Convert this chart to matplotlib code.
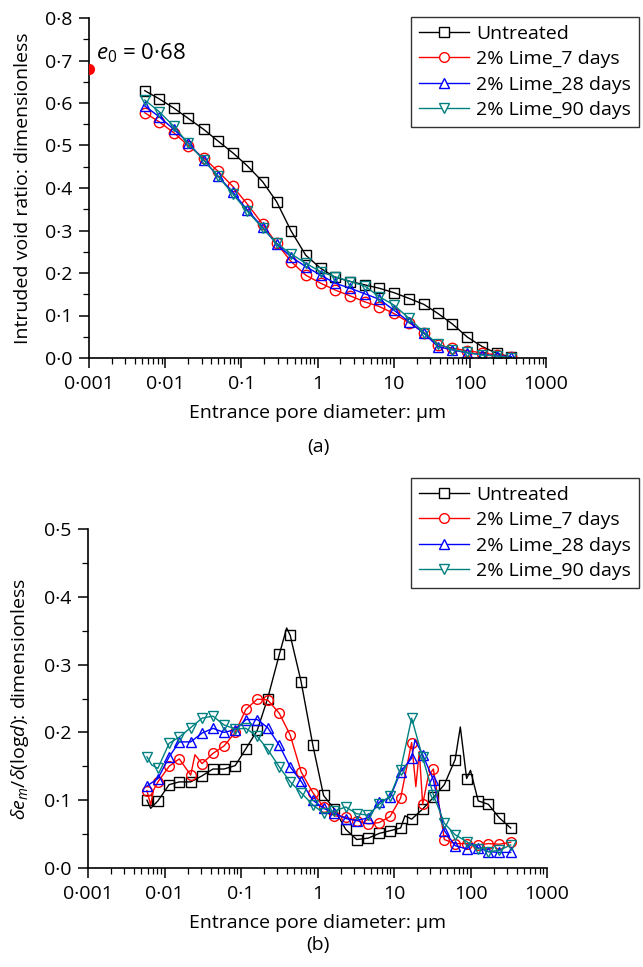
import matplotlib
matplotlib.use('Agg')
import matplotlib.pyplot as plt
from matplotlib.lines import Line2D
from matplotlib.ticker import FixedLocator, LogLocator, NullFormatter, FuncFormatter, MultipleLocator

plt.rcParams['font.family'] = ['Open Sans', 'DejaVu Sans']
plt.rcParams['mathtext.fontset'] = 'custom'
plt.rcParams['mathtext.rm'] = 'Open Sans'
plt.rcParams['mathtext.it'] = 'Open Sans:italic'

labels = ['Untreated', '2% Lime_7 days', '2% Lime_28 days', '2% Lime_90 days']
colors = ['black', 'red', 'blue', 'teal']
markers = ['s', 'o', '^', 'v']

# panel (a): intruded void ratio
d_a = [0.0054, 0.0083, 0.013, 0.020, 0.032, 0.049, 0.077, 0.12, 0.19, 0.29, 0.45, 0.70, 1.1,
       1.7, 2.7, 4.2, 6.5, 10, 16, 25, 38, 59, 93, 145, 225, 350]
e_untreated = [0.629, 0.610, 0.588, 0.564, 0.538, 0.511, 0.483, 0.452, 0.415, 0.368, 0.299, 0.242, 0.211,
               0.190, 0.180, 0.172, 0.164, 0.154, 0.140, 0.126, 0.105, 0.080, 0.049, 0.027, 0.011, 0.002]
e_lime7 = [0.577, 0.556, 0.530, 0.500, 0.471, 0.440, 0.404, 0.362, 0.315, 0.270, 0.227, 0.195, 0.176,
           0.160, 0.146, 0.132, 0.121, 0.105, 0.083, 0.060, 0.031, 0.023, 0.017, 0.012, 0.007, 0.002]
e_lime28 = [0.593, 0.568, 0.538, 0.507, 0.466, 0.428, 0.391, 0.348, 0.308, 0.268, 0.238, 0.215, 0.195,
            0.176, 0.164, 0.151, 0.138, 0.113, 0.085, 0.058, 0.027, 0.019, 0.012, 0.008, 0.005, 0.003]
e_lime90 = [0.607, 0.580, 0.545, 0.505, 0.466, 0.429, 0.386, 0.345, 0.306, 0.270, 0.245, 0.223, 0.203,
            0.191, 0.180, 0.169, 0.144, 0.125, 0.093, 0.060, 0.033, 0.020, 0.013, 0.007, 0.005, 0.001]
e0 = 0.68

# panel (b): pore size density, markers at d_b
d_b = [0.0059, 0.0082, 0.0115, 0.0156, 0.022, 0.031, 0.043, 0.060, 0.084, 0.116, 0.163, 0.223, 0.317,
       0.44, 0.61, 0.87, 1.2, 1.66, 2.34, 3.25, 4.6, 6.4, 8.9, 12.2, 17, 23.7, 32.7, 45.5, 63, 89,
       126, 171, 238, 335]
f_untreated = [0.100, 0.099, 0.123, 0.127, 0.127, 0.136, 0.146, 0.146, 0.151, 0.176, 0.203, 0.250, 0.315,
               0.343, 0.275, 0.181, 0.107, 0.087, 0.057, 0.042, 0.044, 0.051, 0.055, 0.059, 0.072, 0.087,
               0.104, 0.123, 0.160, 0.132, 0.099, 0.094, 0.074, 0.059]
f_lime7 = [0.114, 0.127, 0.150, 0.161, 0.137, 0.154, 0.169, 0.180, 0.200, 0.234, 0.249, 0.248, 0.228,
           0.196, 0.142, 0.111, 0.090, 0.077, 0.075, 0.070, 0.065, 0.067, 0.076, 0.103, 0.185, 0.094,
           0.146, 0.042, 0.036, 0.036, 0.034, 0.036, 0.035, 0.038]
f_lime28 = [0.121, 0.132, 0.164, 0.186, 0.186, 0.199, 0.206, 0.200, 0.204, 0.219, 0.219, 0.207, 0.181,
            0.149, 0.128, 0.100, 0.088, 0.081, 0.073, 0.070, 0.074, 0.097, 0.104, 0.142, 0.162, 0.167,
            0.130, 0.055, 0.033, 0.028, 0.030, 0.024, 0.023, 0.023]
f_lime90 = [0.164, 0.147, 0.184, 0.193, 0.207, 0.221, 0.224, 0.211, 0.205, 0.206, 0.194, 0.175, 0.149,
            0.127, 0.111, 0.093, 0.081, 0.084, 0.090, 0.080, 0.078, 0.094, 0.106, 0.145, 0.221, 0.163,
            0.108, 0.066, 0.049, 0.039, 0.028, 0.024, 0.026, 0.034]

# extra line-only points (zigzags / peaks between markers)
xd_untreated = [0.0066, 0.395, 13.9, 73.6, 100]
xv_untreated = [0.088, 0.354, 0.077, 0.208, 0.144]
xd_lime7 = [0.0066, 0.0072, 0.025, 19.3, 21.4, 28.0]
xv_lime7 = [0.093, 0.115, 0.167, 0.120, 0.172, 0.135]
xd_lime28 = [18.8, 105]
xv_lime28 = [0.189, 0.036]
xd_lime90 = [0.0068, 150]
xv_lime90 = [0.152, 0.030]

FS = 14


def fmt(v, pos):
    s = '%g' % v
    return s.replace('.', '\u00b7')


def style_axes(ax, ymax, ylabel):
    ax.set_xscale('log')
    ax.set_xlim(0.001, 1000)
    ax.set_ylim(0, ymax)
    ax.xaxis.set_major_locator(FixedLocator([0.001, 0.01, 0.1, 1, 10, 100, 1000]))
    ax.xaxis.set_minor_locator(LogLocator(base=10, subs=range(2, 10), numticks=20))
    ax.xaxis.set_minor_formatter(NullFormatter())
    ax.xaxis.set_major_formatter(FuncFormatter(fmt))
    ax.yaxis.set_major_locator(MultipleLocator(0.1))
    ax.yaxis.set_minor_locator(MultipleLocator(0.05))
    ax.yaxis.set_major_formatter(FuncFormatter(lambda v, p: ('%.1f' % v).replace('.', '\u00b7')))
    ax.spines['top'].set_visible(False)
    ax.spines['right'].set_visible(False)
    ax.spines['left'].set_linewidth(1.2)
    ax.spines['bottom'].set_linewidth(1.2)
    ax.tick_params(which='major', direction='out', length=7, width=1.1, labelsize=FS, colors='black', pad=5)
    ax.tick_params(which='minor', direction='out', length=4, width=0.9)
    ax.set_xlabel('Entrance pore diameter: \u03bcm', fontsize=FS, labelpad=8)
    ax.set_ylabel(ylabel, fontsize=FS, labelpad=9)


def legend_handles(ms):
    return [Line2D([0], [0], color=c, lw=1, marker=m, ms=ms, mfc='white', mec=c, mew=1)
            for c, m in zip(colors, markers)]


def add_legend(top_px):
    leg = fig.legend(handles=legend_handles(7), labels=labels, loc='upper left',
                     bbox_to_anchor=(411 / 643, 1 - top_px / 967), fontsize=14, frameon=True,
                     fancybox=False, edgecolor='black', handlelength=2.6, borderpad=0.4,
                     labelspacing=0.38, handletextpad=0.35, borderaxespad=0)
    leg.get_frame().set_linewidth(1)
    return leg


fig = plt.figure(figsize=(6.43, 9.67), dpi=100)

# ---- panel (a)
ax1 = fig.add_axes([89 / 643, 1 - 358 / 967, 457 / 643, 340 / 967])
series_a = [e_untreated, e_lime7, e_lime28, e_lime90]
for y, c, m, lab in zip(series_a, colors, markers, labels):
    ax1.plot(d_a, y, color=c, lw=1, marker=m, ms=7.5, mfc='none', mec=c, mew=1, label=lab)
ax1.plot([0.001], [e0], 'o', color='red', ms=7, clip_on=True, zorder=5)
ax1.text(0.00125, 0.69, '$e_0$ = 0\u00b768', fontsize=16, va='bottom')
style_axes(ax1, 0.8, 'Intruded void ratio: dimensionless')
fig.text(318 / 643, 1 - 447 / 967, '(a)', ha='center', va='center', fontsize=FS)
add_legend(17)

# ---- panel (b)
ax2 = fig.add_axes([88 / 643, 1 - 868 / 967, 459 / 643, 339 / 967])
series_b = [f_untreated, f_lime7, f_lime28, f_lime90]
extras = [(xd_untreated, xv_untreated), (xd_lime7, xv_lime7), (xd_lime28, xv_lime28), (xd_lime90, xv_lime90)]
for y, (ex, ey), c, m in zip(series_b, extras, colors, markers):
    pts = sorted(list(zip(d_b, y)) + list(zip(ex, ey)))
    ax2.plot([p[0] for p in pts], [p[1] for p in pts], color=c, lw=1)
    ax2.plot(d_b, y, ls='none', marker=m, ms=7, mfc='none', mec=c, mew=1)
style_axes(ax2, 0.5, r'$\delta e_m/\delta(\mathrm{log}d)$: dimensionless')
fig.text(318 / 643, 1 - 945 / 967, '(b)', ha='center', va='center', fontsize=FS)
add_legend(478)

fig.savefig('out.png', dpi=100)
